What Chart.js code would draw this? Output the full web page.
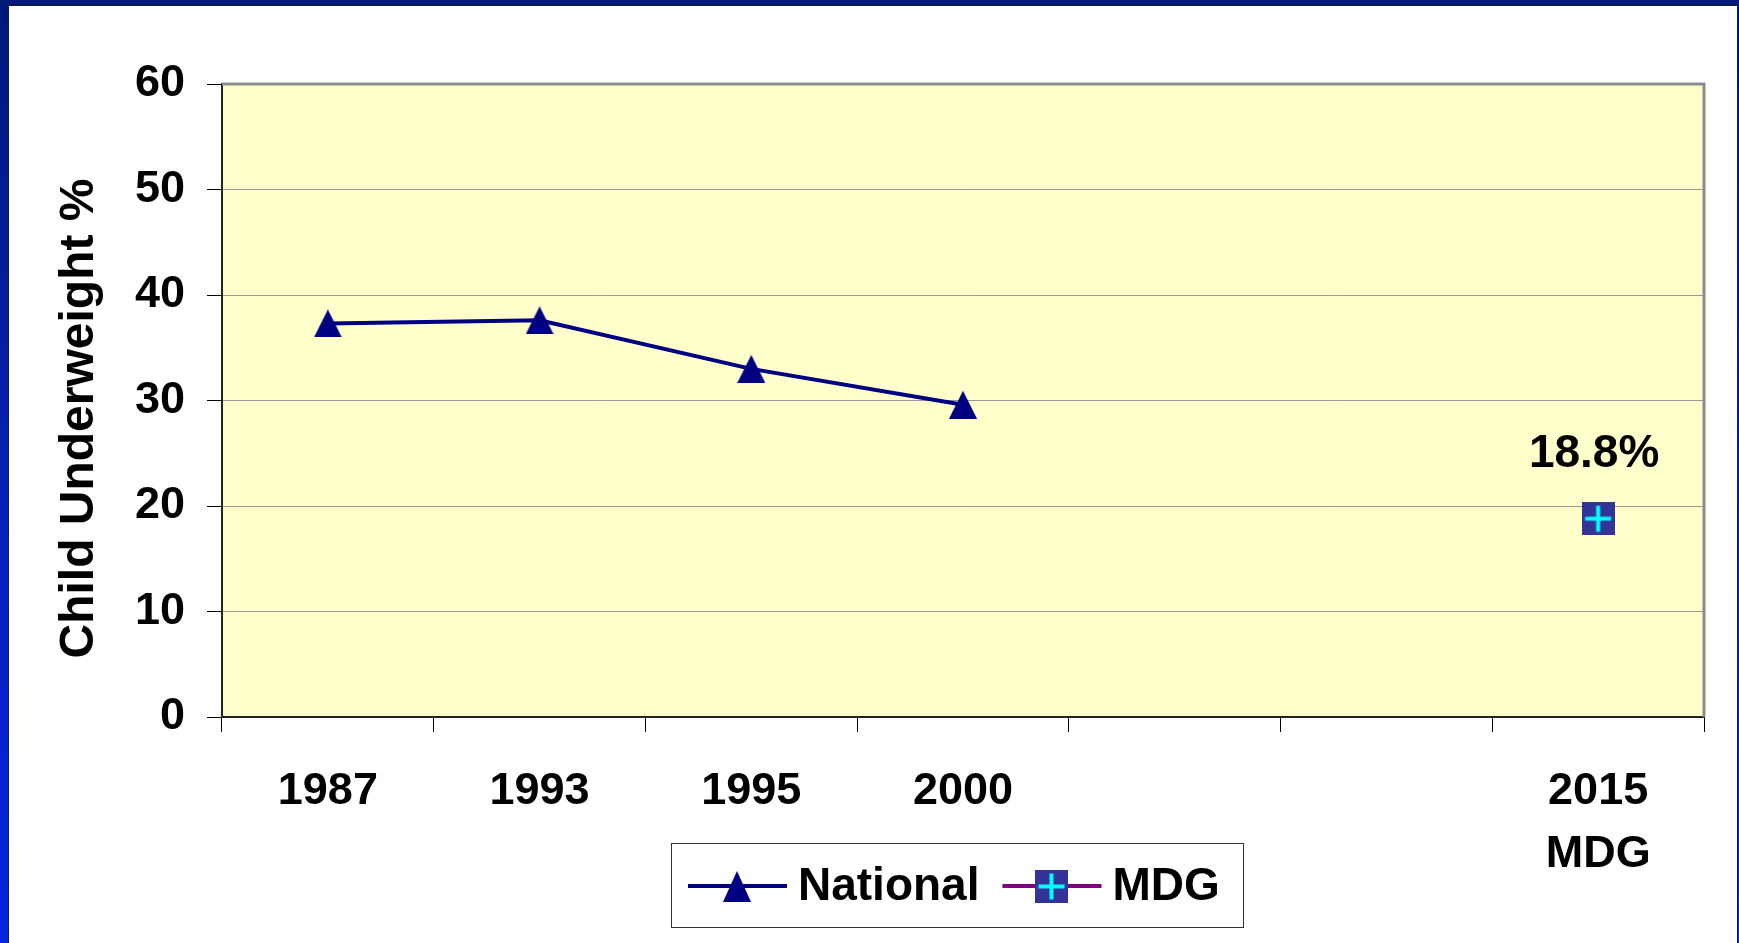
<!DOCTYPE html>
<html>
<head>
<meta charset="utf-8">
<title>Child Underweight</title>
<script src="https://cdn.jsdelivr.net/npm/chart.js@4.4.0/dist/chart.umd.min.js"></script>
<style>
  html, body {
    margin: 0; padding: 0; width: 1739px; height: 943px; overflow: hidden;
    background: linear-gradient(to bottom, #001a7a 0%, #0620b8 55%, #0526e0 100%);
  }
  #sheet {
    position: absolute; left: 8px; top: 5px; width: 1730px; height: 938px;
    background: #fff; box-sizing: border-box;
    border-left: 1px solid #1a1a2a; border-top: 1px solid #1a1a2a; border-right: 1px solid #1a1a2a;
  }
  #chart { position: absolute; left: 0; top: 0; }
</style>
</head>
<body>
<div id="sheet"></div>
<canvas id="chart" width="1739" height="943"></canvas>
<script>
const years = ['1987', '1993', '1995', '2000', '', '', ['2015', 'MDG']];
const nationalValues = [37.3, 37.6, 33.0, 29.6, null, null, null];
const mdgValues = [null, null, null, null, null, null, 18.8];
const yTicks = [0, 10, 20, 30, 40, 50, 60];
const yTitle = 'Child Underweight %';

const FONT = '"Liberation Sans", Arial, sans-serif';

function triangleMarker(w, h, color) {
    const c = document.createElement('canvas');
    c.width = w; c.height = h;
    const ctx = c.getContext('2d');
    ctx.fillStyle = color;
    ctx.beginPath();
    ctx.moveTo(w / 2, 0);
    ctx.lineTo(w, h);
    ctx.lineTo(0, h);
    ctx.closePath();
    ctx.fill();
    return c;
}

function plusMarker(size, fill, cross) {
    const c = document.createElement('canvas');
    c.width = size; c.height = size;
    const ctx = c.getContext('2d');
    ctx.fillStyle = fill;
    ctx.fillRect(0, 0, size, size);
    const arm = Math.round(size * 0.38);
    const mid = size / 2;
    ctx.strokeStyle = cross;
    ctx.lineWidth = 4;
    ctx.beginPath();
    ctx.moveTo(mid - arm, mid); ctx.lineTo(mid + arm, mid);
    ctx.moveTo(mid, mid - arm); ctx.lineTo(mid, mid + arm);
    ctx.stroke();
    return c;
}

// yellow plot background + grey frame on top/right
const plotFrame = {
    id: 'plotFrame',
    beforeDraw(chart) {
        const {ctx, chartArea: a} = chart;
        ctx.save();
        ctx.fillStyle = '#FFFFCC';
        ctx.fillRect(a.left, a.top, a.right - a.left, a.bottom - a.top);
        ctx.restore();
    },
    afterDraw(chart) {
        const {ctx, chartArea: a} = chart;
        ctx.save();
        ctx.strokeStyle = '#8c8c8c';
        ctx.lineWidth = 3;
        ctx.beginPath();
        ctx.moveTo(a.left, a.top);
        ctx.lineTo(a.right, a.top);
        ctx.lineTo(a.right, a.bottom);
        ctx.stroke();
        ctx.restore();
    }
};

// rotated y title, sits a little below the plot middle like the original
const yAxisTitle = {
    id: 'yAxisTitle',
    afterDraw(chart) {
        const {ctx, chartArea: a} = chart;
        ctx.save();
        ctx.translate(80, (a.top + a.bottom) / 2 + 18);
        ctx.rotate(-Math.PI / 2);
        ctx.font = 'bold 48px ' + FONT;
        ctx.textAlign = 'center';
        ctx.textBaseline = 'middle';
        ctx.fillStyle = '#000';
        ctx.fillText(yTitle, 0, 0);
        ctx.restore();
    }
};

// "18.8%" above the MDG point
const valueLabel = {
    id: 'valueLabel',
    afterDatasetsDraw(chart) {
        const ctx = chart.ctx;
        const ds = chart.data.datasets[1];
        const meta = chart.getDatasetMeta(1);
        ctx.save();
        ctx.font = 'bold 46px ' + FONT;
        ctx.textAlign = 'center';
        ctx.textBaseline = 'middle';
        ctx.fillStyle = '#000';
        meta.data.forEach((pt, i) => {
            if (ds.data[i] == null) return;
            ctx.fillText(ds.data[i].toFixed(1) + '%', pt.x - 4, pt.y - 64);
        });
        ctx.restore();
    }
};

// boxed legend with line + marker samples
const boxLegend = {
    id: 'boxLegend',
    afterDraw(chart) {
        const ctx = chart.ctx;
        const x0 = 671, y0 = 843, w = 572, h = 84;
        ctx.save();
        ctx.strokeStyle = '#333';
        ctx.lineWidth = 1;
        ctx.strokeRect(x0 + 0.5, y0 + 0.5, w, h);
        const cy = y0 + h / 2 + 1;
        ctx.font = 'bold 46px ' + FONT;
        ctx.textBaseline = 'middle';
        let x = x0 + 17;
        chart.data.datasets.forEach(ds => {
            ctx.strokeStyle = ds.borderColor;
            ctx.lineWidth = 4;
            ctx.beginPath();
            ctx.moveTo(x, cy);
            ctx.lineTo(x + 99, cy);
            ctx.stroke();
            const m = ds.legendMarker;
            ctx.drawImage(m, Math.round(x + 49 - m.width / 2), Math.round(cy - m.height / 2));
            x += 110;
            ctx.fillStyle = '#000';
            ctx.fillText(ds.label, x, cy + 1);
            x += ctx.measureText(ds.label).width + 23;
        });
        ctx.restore();
    }
};

Chart.defaults.font.family = FONT;
Chart.defaults.color = '#000';

new Chart(document.getElementById('chart'), {
    type: 'line',
    data: {
        labels: years,
        datasets: [{
            label: 'National',
            data: nationalValues,
            borderColor: '#000080',
            borderWidth: 4,
            pointStyle: triangleMarker(28, 28, '#000080'),
            legendMarker: triangleMarker(28, 31, '#000080'),
            spanGaps: false
        }, {
            label: 'MDG',
            data: mdgValues,
            borderColor: '#800080',
            borderWidth: 4,
            pointStyle: plusMarker(33, '#333399', '#00FFFF'),
            legendMarker: plusMarker(33, '#333399', '#00FFFF')
        }]
    },
    options: {
        responsive: false,
        animation: false,
        events: [],
        layout: { padding: { left: 0, top: 84, right: 35, bottom: 0 } },
        plugins: { legend: { display: false }, tooltip: { enabled: false } },
        scales: {
            x: {
                type: 'category',
                offset: true,
                afterFit(scale) { scale.height = 226; },
                grid: { offset: true, drawOnChartArea: false, drawTicks: true, tickLength: 15, tickColor: '#000', tickWidth: 1 },
                border: { color: '#222', width: 2 },
                ticks: {
                    font: { size: 45, weight: 'bold', lineHeight: 1.4 },
                    padding: 28,
                    maxRotation: 0,
                    autoSkip: false
                }
            },
            y: {
                min: yTicks[0],
                max: yTicks[yTicks.length - 1],
                afterFit(scale) { scale.width = 222; },
                grid: { color: '#999', lineWidth: 1, tickLength: 15, tickColor: '#000' },
                border: { color: '#222', width: 2 },
                ticks: {
                    stepSize: yTicks[1] - yTicks[0],
                    font: { size: 45, weight: 'bold' },
                    padding: 22
                }
            }
        }
    },
    plugins: [plotFrame, yAxisTitle, valueLabel, boxLegend]
});
</script>
</body>
</html>
